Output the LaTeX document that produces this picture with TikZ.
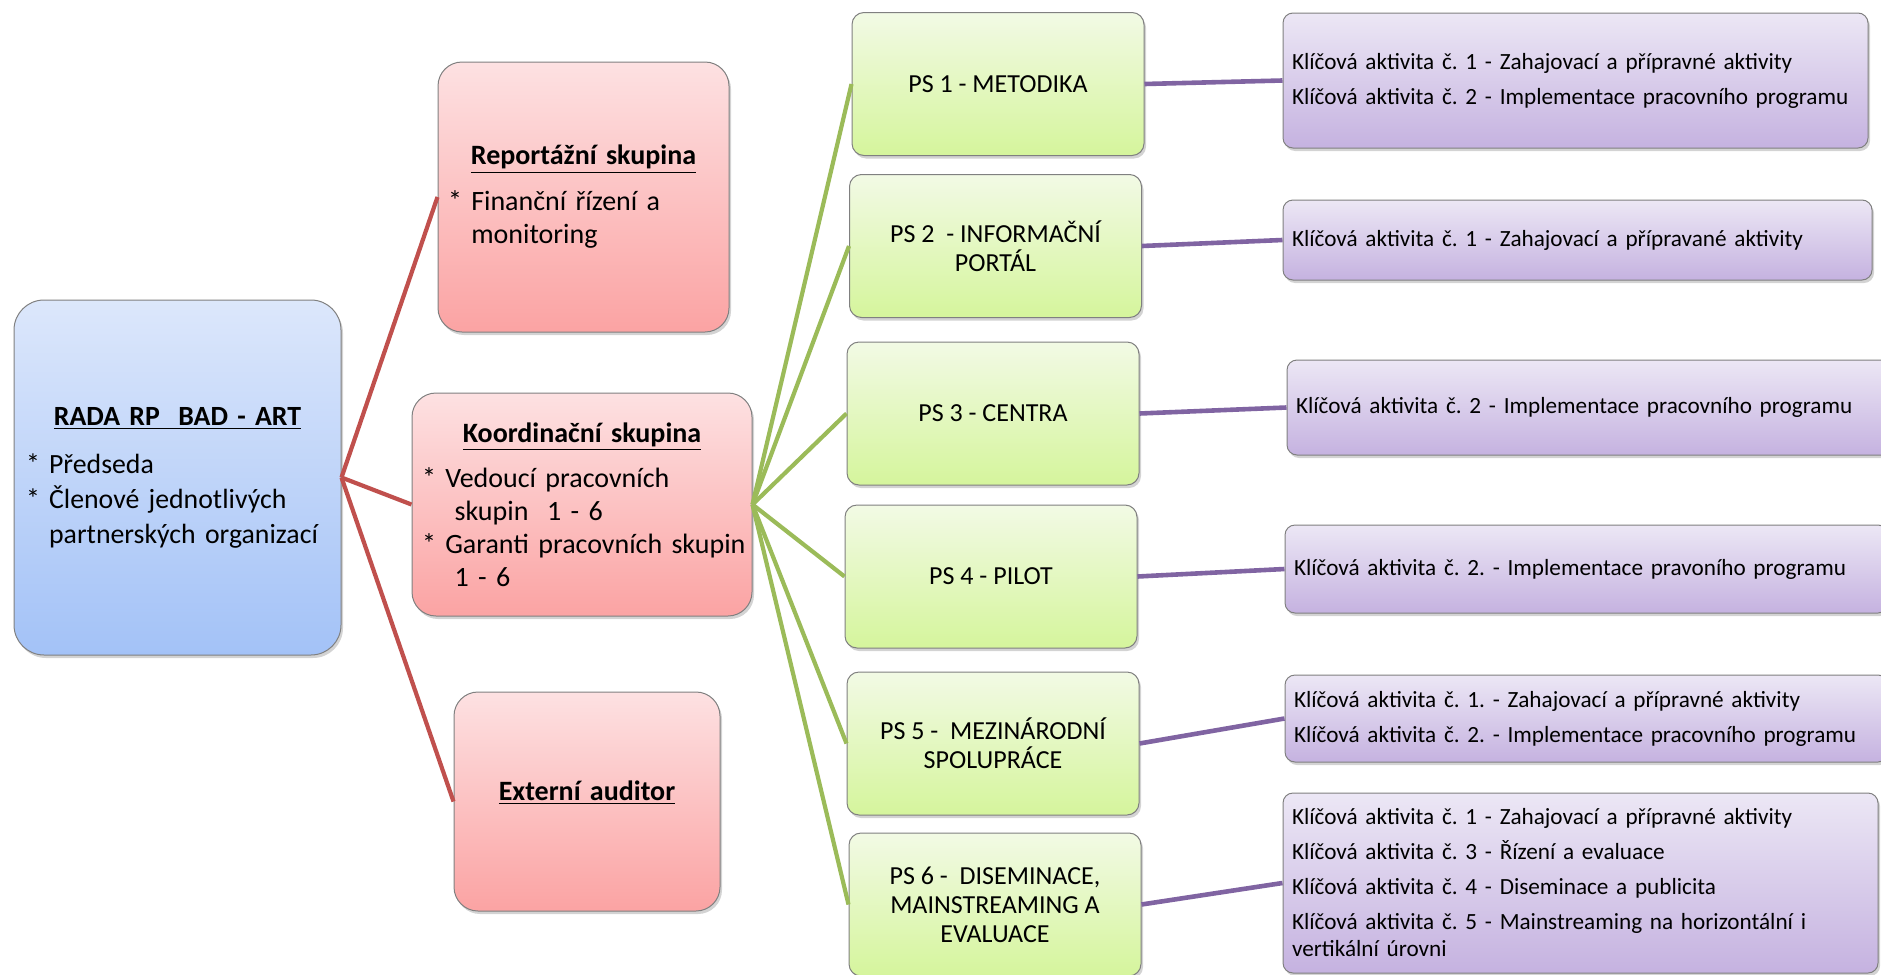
\documentclass[tikz,border=0pt]{standalone}
\usepackage{fontspec}
\setmainfont{Carlito}
\usetikzlibrary{shadows}
\definecolor{redline}{HTML}{C0504D}
\definecolor{greenline}{HTML}{9BBB59}
\definecolor{violetline}{HTML}{8064A2}
\definecolor{bluetop}{HTML}{DCE7FB}
\definecolor{bluebot}{HTML}{A3C2F7}
\definecolor{redtop}{HTML}{FDE1E2}
\definecolor{redbot}{HTML}{FBA3A3}
\definecolor{greentop}{HTML}{F2FAE5}
\definecolor{greenbot}{HTML}{D5F59C}
\definecolor{violettop}{HTML}{ECE7F5}
\definecolor{violetbot}{HTML}{C5B2E0}
\begin{document}
\frenchspacing\hyphenpenalty=10000
\begin{tikzpicture}[x=0.5pt,y=-0.5pt,
  box/.style={draw=black!50,line width=0.5pt,align=left,inner ysep=0pt,
    drop shadow={shadow xshift=1pt,shadow yshift=-1.5pt,opacity=0.35}},
  radabox/.style={box,rounded corners=15pt,top color=bluetop,bottom color=bluebot,
    minimum width=163.5pt,minimum height=177.5pt,inner xsep=6pt,text width=151.5pt,
    font=\fontsize{13.9}{17.5}\selectfont},
  grpbox/.style={box,rounded corners=12pt,top color=redtop,bottom color=redbot,
    inner xsep=5pt,font=\fontsize{14}{16.5}\selectfont},
  psbox/.style={box,rounded corners=6pt,top color=greentop,bottom color=greenbot,
    minimum width=146pt,minimum height=71.5pt,align=center,font=\fontsize{13}{14.5}\selectfont},
  kabox/.style={box,rounded corners=5pt,top color=violettop,bottom color=violetbot,
    inner xsep=4.5pt,font=\fontsize{11.6}{17.5}\selectfont},
  redl/.style={redline,line width=2.1pt},
  greenl/.style={greenline,line width=2.1pt},
  violetl/.style={violetline,line width=2.3pt}]
\useasboundingbox (0,0) rectangle (1881,975);
% levy sloupec
\node[radabox] (rada) at (177.5,477.5) {\makebox[\hsize]{\bfseries\underline{RADA RP\ \ BAD - ART}}\\[6.5pt]
{*} Předseda\\
{*} Členové jednotlivých\\
\phantom{* }partnerských organizací};
\node[grpbox,minimum width=145.5pt,minimum height=135pt,text width=135.5pt] (rep) at (583.5,197)
 {\makebox[\hsize]{\bfseries\underline{Reportážní skupina}}\\[6.5pt]
{*} Finanční řízení a\\
\phantom{* }monitoring};
\node[grpbox,minimum width=170pt,minimum height=111.5pt,text width=160pt] (koord) at (582,504.5)
 {\makebox[\hsize]{\bfseries\underline{Koordinační skupina}}\\[6pt]
{*} Vedoucí pracovních\\
\phantom{* }\ skupin\ \ 1 - 6\\
\mbox{{*} Garanti pracovních skupin}\\
\phantom{* }\ 1 - 6};
\node[grpbox,minimum width=133pt,minimum height=109.5pt,text width=123pt] (ext) at (587,801.5)
 {\makebox[\hsize]{\bfseries\underline{Externí auditor}}\rule[-11pt]{0pt}{11pt}};
% pracovni skupiny
\node[psbox] (ps1) at (998,84) {PS 1 - METODIKA};
\node[psbox] (ps2) at (995.5,246) {PS 2\ \ - INFORMAČNÍ\\PORTÁL};
\node[psbox] (ps3) at (993,413.5) {PS 3 - CENTRA};
\node[psbox] (ps4) at (991,576.5) {PS 4 - PILOT};
\node[psbox] (ps5) at (993,743.5) {PS 5 -\ \ MEZINÁRODNÍ\\SPOLUPRÁCE};
\node[psbox] (ps6) at (995,904.5) {PS 6 -\ \ DISEMINACE,\\MAINSTREAMING A\\EVALUACE};
% klicove aktivity
\node[kabox,minimum width=292.5pt,minimum height=67.5pt,text width=283.5pt] (ka1) at (1575.5,80.5)
 {Klíčová aktivita č. 1 - Zahajovací a přípravné aktivity\\
Klíčová aktivita č. 2 - Implementace pracovního programu};
\node[kabox,minimum width=294.5pt,minimum height=40pt,text width=285.5pt] (ka2) at (1577.5,240)
 {Klíčová aktivita č. 1 - Zahajovací a přípravané aktivity};
\node[kabox,minimum width=302.5pt,minimum height=47.5pt,text width=293.5pt] (ka3) at (1589.5,407.5)
 {Klíčová aktivita č. 2 - Implementace pracovního programu};
\node[kabox,minimum width=301.5pt,minimum height=44pt,text width=292.5pt] (ka4) at (1586.5,569)
 {Klíčová aktivita č. 2. - Implementace pravoního programu};
\node[kabox,minimum width=301.5pt,minimum height=43.5pt,text width=292.5pt] (ka5) at (1586.5,718.5)
 {Klíčová aktivita č. 1. - Zahajovací a přípravné aktivity\\
Klíčová aktivita č. 2. - Implementace pracovního programu};
\node[kabox,minimum width=297.5pt,minimum height=90pt,text width=288.5pt] (ka6) at (1580.5,883)
 {Klíčová aktivita č. 1 - Zahajovací a přípravné aktivity\\
Klíčová aktivita č. 3 - Řízení a evaluace\\
Klíčová aktivita č. 4 - Diseminace a publicita\\
Klíčová aktivita č. 5 - Mainstreaming na horizontální i\\[-4pt]
vertikální úrovni};
% spojnice
\foreach \n in {rep,koord,ext}
  \draw[redl] (rada.east) -- (\n.west);
\foreach \n in {1,...,6}{
  \draw[greenl] (koord.east) -- (ps\n.west);
  \draw[violetl] (ps\n.east) -- (ka\n.west);}
\end{tikzpicture}
\end{document}
